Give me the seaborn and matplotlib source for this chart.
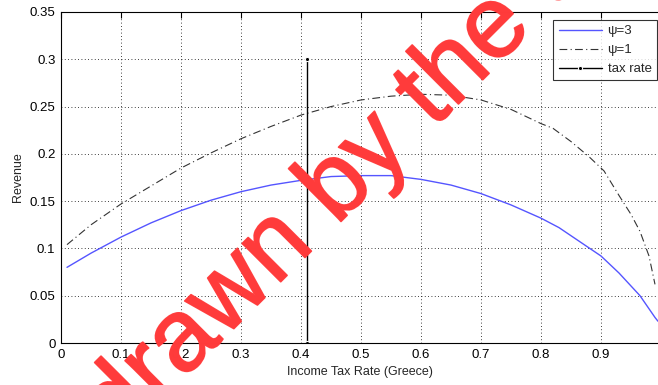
import numpy as np
import pandas as pd
import matplotlib
matplotlib.use("Agg")
import matplotlib.pyplot as plt
import matplotlib.patheffects as pe
import seaborn as sns

# values
tax = [0.01, 0.05, 0.10, 0.15, 0.20, 0.25, 0.30, 0.35, 0.40, 0.45, 0.50, 0.55,
       0.60, 0.65, 0.70, 0.75, 0.80, 0.83, 0.865, 0.90, 0.93, 0.965, 0.99, 0.995]
rev_psi3 = [0.080, 0.095, 0.112, 0.127, 0.140, 0.151, 0.160, 0.167, 0.172, 0.176, 0.177, 0.177,
            0.173, 0.167, 0.158, 0.146, 0.132, 0.122, 0.107, 0.092, 0.074, 0.050, 0.027, 0.023]

tax1 = [0.01, 0.05, 0.10, 0.15, 0.20, 0.25, 0.30, 0.35, 0.40, 0.45, 0.50, 0.55,
        0.60, 0.65, 0.70, 0.75, 0.80, 0.82, 0.85, 0.88, 0.905, 0.93, 0.95, 0.965,
        0.98, 0.99]
rev_psi1 = [0.104, 0.125, 0.147, 0.166, 0.185, 0.201, 0.216, 0.229, 0.241, 0.250, 0.257, 0.261,
            0.263, 0.262, 0.257, 0.247, 0.232, 0.227, 0.213, 0.197, 0.182, 0.156, 0.136, 0.118,
            0.092, 0.062]

tax_rate_x = [0.41, 0.41]
tax_rate_y = [0.0, 0.30]

xticks = [0, 0.1, 0.2, 0.3, 0.4, 0.5, 0.6, 0.7, 0.8, 0.9]
yticks = [0, 0.05, 0.1, 0.15, 0.2, 0.25, 0.3, 0.35]

sns.set_style("white")
plt.rcParams["font.family"] = ["Liberation Sans", "DejaVu Sans"]

fig = plt.figure(figsize=(6.58, 3.85), dpi=100)
ax = fig.add_axes([61 / 658, 1 - 343 / 385, 1 - 61 / 658, (343 - 12) / 385])

df3 = pd.DataFrame({"x": tax, "y": rev_psi3})
df1 = pd.DataFrame({"x": tax1, "y": rev_psi1})
dft = pd.DataFrame({"x": tax_rate_x, "y": tax_rate_y})

sns.lineplot(data=df3, x="x", y="y", ax=ax, color="#5555ff", lw=1.0, label="\u03c8=3")
sns.lineplot(data=df1, x="x", y="y", ax=ax, color="#333333", lw=0.8, label="\u03c8=1")
ax.lines[-1].set_dashes([7, 3, 1, 3])
sns.lineplot(data=dft, x="x", y="y", ax=ax, color="black", lw=1.0, marker="o",
             markersize=3, estimator=None, sort=False, label="tax rate")

ax.set_xlim(0, 0.995)
ax.set_ylim(0, 0.35)
ax.set_xticks(xticks)
ax.set_xticklabels([f"{v:g}" for v in xticks])
ax.set_yticks(yticks)
ax.set_yticklabels([f"{v:g}" for v in yticks])
ax.tick_params(direction="in", length=4, width=0.8, labelsize=9.5, top=True,
               colors="black", pad=4)
ax.grid(True, linestyle=(0, (1, 3)), color="black", lw=0.6)
for s in ax.spines.values():
    s.set_color("black")
    s.set_linewidth(0.8)
ax.spines["right"].set_visible(False)

ax.set_xlabel("Income Tax Rate (Greece)", fontsize=9)
ax.set_ylabel("Revenue", fontsize=9)

leg = ax.legend(loc="upper right", bbox_to_anchor=(0.998, 0.976), borderaxespad=0,
                fontsize=9.5, frameon=True, fancybox=False, handlelength=3.3,
                borderpad=0.4, labelspacing=0.5, handletextpad=0.4)
leg.get_frame().set_edgecolor("black")
leg.get_frame().set_linewidth(0.8)

# red watermark over the plot
fig.text(374 / 658, 1 - 151 / 385, "Redrawn by the author", color="#ff3b3b",
         fontsize=74, rotation=45, ha="center", va="center",
         rotation_mode="anchor", alpha=0.95, zorder=10,
         path_effects=[pe.withStroke(linewidth=1.2, foreground="#ff3b3b")])

fig.savefig("out.png", dpi=100)
